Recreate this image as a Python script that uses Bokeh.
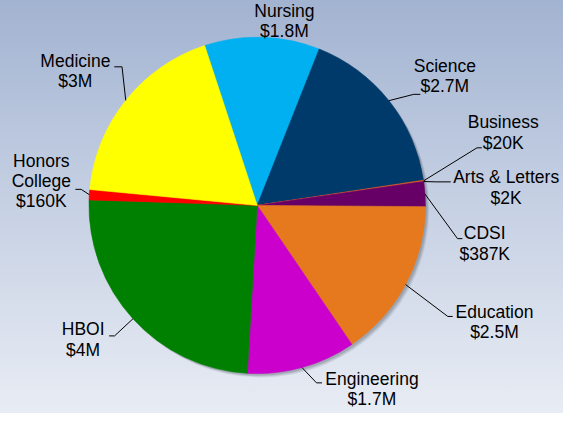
import math
from bokeh.plotting import figure
from bokeh.models import Range1d, ColumnDataSource
from bokeh.core.properties import value
from bokeh.embed import file_html
from bokeh.resources import INLINE

# ---- data ----
schools = ["Nursing", "Science", "Business", "Arts & Letters", "CDSI",
           "Education", "Engineering", "HBOI", "Honors College", "Medicine"]
amounts = [1.8e6, 2.7e6, 20e3, 2e3, 387e3, 2.5e6, 1.7e6, 4.0e6, 160e3, 3.0e6]
labels = ["Nursing\n$1.8M", "Science\n$2.7M", "Business\n$20K", "Arts & Letters\n$2K",
          "CDSI\n$387K", "Education\n$2.5M", "Engineering\n$1.7M", "HBOI\n$4M",
          "Honors\nCollege\n$160K", "Medicine\n$3M"]
colors = ["#00B0F0", "#003A6B", "#E2571E", "#C0504D", "#660066",
          "#E6781E", "#CC00CC", "#008000", "#FF0000", "#FFFF00"]

# ---- layout (reference pixel coords, y downward) ----
REF_H = 429
CX, CY, R = 264.0, 212.5, 173.0
START_DEG = 108.2  # angle (math convention) where the first slice begins
label_pos = [(292, 23), (457, 79.5), (517, 137.5), (520, 194), (498, 251.5),
             (508, 332.5), (382, 401), (85, 350.5), (42, 187.5), (77, 74.5)]
elbows = [None, (425, 98.3), (490, 153.3), (448, 188.3), (470, 246.7),
          (460, 326.7), (325, 395), (117.3, 346.7), (83, 196), (125, 70)]
line_ends = [None, (431.7, 98.3), (495, 153.3), (463, 188.3), (475, 246.7),
             (465, 326.7), (330.7, 395), (111.7, 346.7), (77, 196), (117, 70)]


def Y(y):
    return REF_H - y


total = sum(amounts)
starts, ends, mids = [], [], []
a = math.radians(START_DEG)
for v in amounts:
    w = v / total * 2 * math.pi
    starts.append(a)
    ends.append(a - w)
    mids.append(a - w / 2)
    a -= w

p = figure(width=563, height=413, output_backend="svg", toolbar_location=None,
           x_range=Range1d(0, 579), y_range=Range1d(Y(426.5), Y(1.8)),
           min_border=0, background_fill_color=None, border_fill_color=None,
           outline_line_color=None)
p.axis.visible = False
p.grid.visible = False
p.styles = {"background": "linear-gradient(180deg, #A2B3D1 0%, #C3CEE2 45%, #E8ECF4 100%)"}

# shadow
for off, al in [(4, 0.12), (3, 0.18), (2, 0.25)]:
    p.circle(x=[CX + off], y=[Y(CY) - off], radius=R, fill_color="#5A6270",
             fill_alpha=al, line_color=None)

src = ColumnDataSource(dict(x=[CX] * len(amounts), y=[Y(CY)] * len(amounts),
                            start=starts, end=ends, color=colors))
p.wedge(x="x", y="y", radius=R, start_angle="start", end_angle="end",
        direction="clock", fill_color="color", line_color="color",
        line_width=0.6, source=src)

# leader lines
xs, ys = [], []
for i, m in enumerate(mids):
    if elbows[i] is None:
        continue
    ex, ey = CX + R * math.cos(m), Y(CY) + R * math.sin(m)
    xs.append([ex, elbows[i][0], line_ends[i][0]])
    ys.append([ey, Y(elbows[i][1]), Y(line_ends[i][1])])
p.multi_line(xs=xs, ys=ys, line_color="black", line_width=1)

p.text(x=[lp[0] for lp in label_pos], y=[Y(lp[1]) for lp in label_pos], text=labels,
       text_align="center", text_baseline="middle",
       text_font=value("Liberation Sans"), text_font_size="17.5px",
       text_line_height=1.02, text_color="black")

open("out.html", "w").write(file_html(p, INLINE))
